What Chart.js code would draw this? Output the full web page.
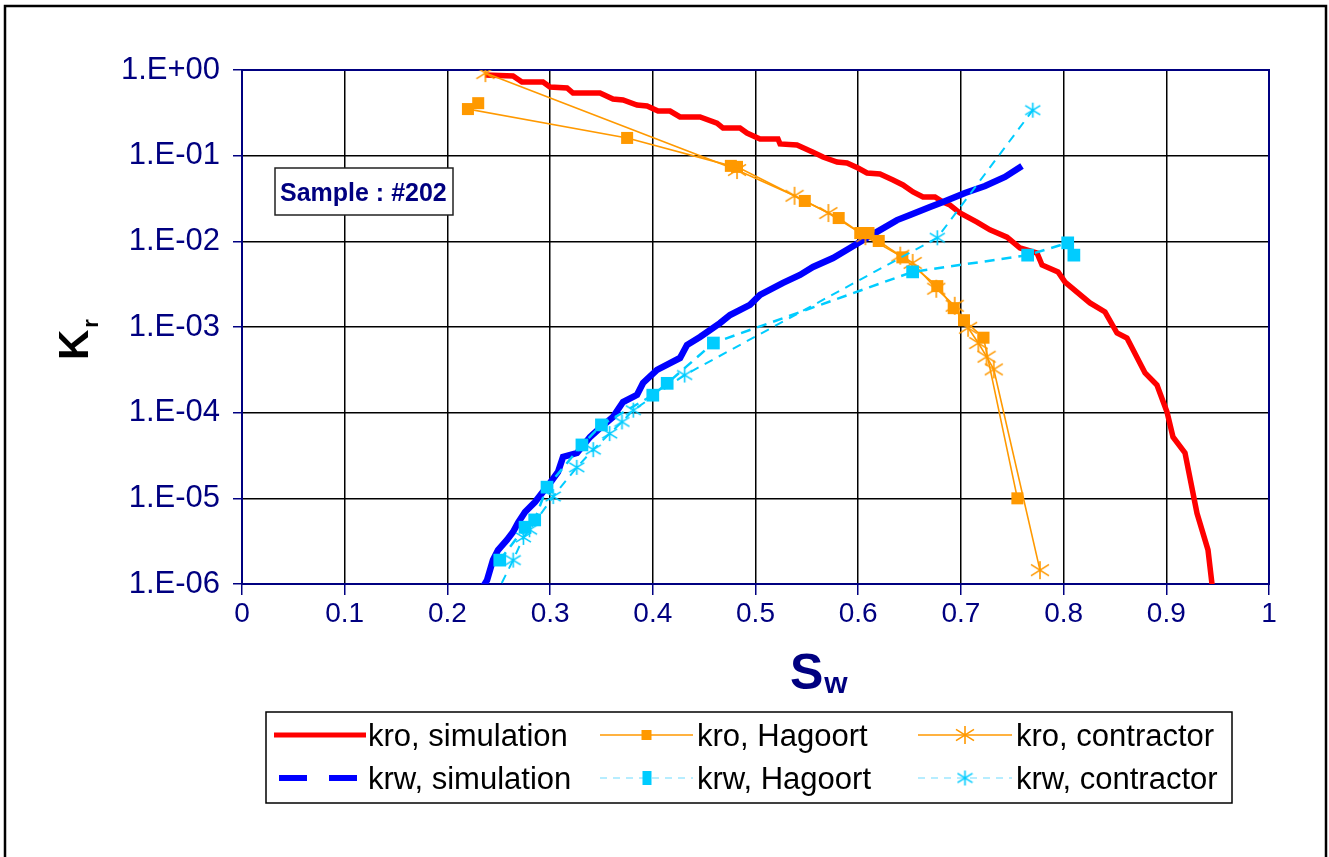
<!DOCTYPE html>
<html>
<head>
<meta charset="utf-8">
<script src="https://cdn.jsdelivr.net/npm/chart.js@4.4.1/dist/chart.umd.min.js"></script>
<style>
html,body{margin:0;padding:0;background:#fff;}
canvas{display:block;}
</style>
</head>
<body>
<canvas id="c" width="1329" height="857"></canvas>
<script>
// ---------- tick labels ----------
const xTicks = [0, 0.1, 0.2, 0.3, 0.4, 0.5, 0.6, 0.7, 0.8, 0.9, 1];
const xTickLabels = ['0', '0.1', '0.2', '0.3', '0.4', '0.5', '0.6', '0.7', '0.8', '0.9', '1'];
const yTicks = [1e-6, 1e-5, 1e-4, 1e-3, 1e-2, 1e-1, 1];
const yTickLabels = ['1.E-06', '1.E-05', '1.E-04', '1.E-03', '1.E-02', '1.E-01', '1.E+00'];

// ---------- series ----------
const seriesNames = ['kro, simulation', 'kro, Hagoort', 'kro, contractor', 'krw, simulation', 'krw, Hagoort', 'krw, contractor'];

const kroSimSw = [0.2366,0.2639,0.2726,0.2931,0.2999,0.3165,0.3223,0.3486,0.3612,0.3710,0.3846,0.3944,0.4051,0.4168,0.4265,0.4460,0.4625,0.4684,0.4849,0.4917,0.5044,0.5219,0.5239,0.5404,0.5560,0.5657,0.5794,0.5891,0.5998,0.6086,0.6212,0.6339,0.6436,0.6534,0.6631,0.6748,0.6826,0.6894,0.6991,0.7157,0.7283,0.7449,0.7576,0.7741,0.7790,0.7946,0.8014,0.8257,0.8403,0.8520,0.8617,0.8793,0.8909,0.9007,0.9065,0.9182,0.9299,0.9406,0.9455];
const kroSimKr = [0.875,0.851,0.724,0.724,0.634,0.617,0.539,0.539,0.458,0.447,0.390,0.380,0.332,0.332,0.283,0.283,0.240,0.210,0.210,0.184,0.157,0.157,0.137,0.133,0.110,0.0964,0.0843,0.0821,0.0718,0.0628,0.0611,0.0520,0.0455,0.0377,0.0330,0.0330,0.0288,0.0265,0.0214,0.0168,0.0136,0.0112,0.00836,0.00731,0.00530,0.00439,0.00335,0.00191,0.00150,0.000851,0.000744,0.000291,0.000210,0.000102,5.2e-5,3.4e-5,6.7e-6,2.5e-6,7.9e-7];

const kroHagSw = [0.230,0.220,0.375,0.476,0.482,0.548,0.581,0.602,0.610,0.620,0.643,0.677,0.693,0.703,0.722,0.755];
const kroHagKr = [0.41,0.35,0.161,0.076,0.074,0.0296,0.0187,0.0125,0.0125,0.0101,0.0065,0.0030,0.00166,0.0012,0.00075,1.0e-5];

const kroConSw = [0.237,0.482,0.538,0.571,0.607,0.641,0.653,0.676,0.694,0.707,0.717,0.725,0.732,0.777];
const kroConKr = [0.92,0.068,0.034,0.0214,0.0115,0.0068,0.0056,0.0028,0.00177,0.00098,0.00065,0.00045,0.00032,1.45e-6];

const krwSimSw = [0.2298,0.2386,0.2444,0.2493,0.2580,0.2639,0.2687,0.2756,0.2853,0.2921,0.2999,0.3077,0.3126,0.3262,0.3389,0.3486,0.3612,0.3710,0.3846,0.3905,0.4041,0.4265,0.4333,0.4460,0.4654,0.4752,0.4946,0.5044,0.5268,0.5433,0.5560,0.5755,0.5920,0.6095,0.6378,0.6504,0.6699,0.6826,0.7040,0.7235,0.7429,0.7595];
const krwSimKr = [7.4e-7,1.11e-6,1.91e-6,2.49e-6,3.27e-6,4.05e-6,5.15e-6,6.93e-6,9.06e-6,1.15e-5,1.51e-5,2.03e-5,3.04e-5,3.38e-5,5.2e-5,6.62e-5,8.9e-5,1.33e-4,1.61e-4,2.22e-4,3.15e-4,4.35e-4,6.16e-4,7.64e-4,1.11e-3,1.38e-3,1.81e-3,2.37e-3,3.27e-3,4.05e-3,5.02e-3,6.39e-3,8.36e-3,1.12e-2,1.77e-2,2.03e-2,2.52e-2,2.88e-2,3.67e-2,4.42e-2,5.64e-2,7.57e-2];

const krwHagSw = [0.251,0.2756,0.285,0.297,0.331,0.350,0.400,0.414,0.459,0.653,0.765,0.804,0.810];
const krwHagKr = [1.9e-6,4.6e-6,5.6e-6,1.35e-5,4.2e-5,7.2e-5,1.6e-4,2.2e-4,6.5e-4,4.4e-3,6.9e-3,9.6e-3,6.9e-3];

const krwConSw = [0.246,0.264,0.274,0.280,0.303,0.326,0.342,0.358,0.370,0.381,0.431,0.677,0.770];
const krwConKr = [7.0e-7,1.9e-6,3.5e-6,4.3e-6,1.05e-5,2.3e-5,3.7e-5,5.7e-5,7.8e-5,1.07e-4,2.75e-4,1.1e-2,0.34];

const sampleLabel = 'Sample : #202';

// ---------- styling helpers ----------
const RED = '#FF0000', BLUE = '#0000FF', ORANGE = '#FF9900', CYAN = '#00CCFF', NAVY = '#000080';
const FONT = '"Liberation Sans", Arial, Helvetica, sans-serif';

function makeAsterisk(color, size, lw) {
  const c = document.createElement('canvas');
  c.width = size; c.height = size;
  const g = c.getContext('2d');
  g.strokeStyle = color; g.lineWidth = lw; g.lineCap = 'butt';
  const h = size / 2, r = size / 2 - 1;
  g.beginPath();
  g.moveTo(h, h - r); g.lineTo(h, h + r);
  g.moveTo(h - r, h - r * 0.62); g.lineTo(h + r, h + r * 0.62);
  g.moveTo(h - r, h + r * 0.62); g.lineTo(h + r, h - r * 0.62);
  g.stroke();
  return c;
}
const orangeStar = makeAsterisk(ORANGE, 20, 1.6);
const cyanStar = makeAsterisk(CYAN, 17, 1.6);

const pts = (xs, ys) => xs.map((x, i) => ({x: x, y: ys[i]}));

const datasets = [
  {label: seriesNames[0], data: pts(kroSimSw, kroSimKr), showLine: true, borderColor: RED, borderWidth: 5.5, pointRadius: 0, order: 6},
  {label: seriesNames[1], data: pts(kroHagSw, kroHagKr), showLine: true, borderColor: ORANGE, borderWidth: 1.6, pointStyle: 'rect', pointRadius: 8.5, pointBackgroundColor: ORANGE, pointBorderWidth: 0, order: 4},
  {label: seriesNames[2], data: pts(kroConSw, kroConKr), showLine: true, borderColor: ORANGE, borderWidth: 1.6, pointStyle: orangeStar, pointRadius: 9, order: 3},
  {label: seriesNames[3], data: pts(krwSimSw, krwSimKr), showLine: true, borderColor: BLUE, borderWidth: 6.5, pointRadius: 0, order: 5},
  {label: seriesNames[4], data: pts(krwHagSw, krwHagKr), showLine: true, borderColor: CYAN, borderWidth: 2.5, borderDash: [10, 7], pointStyle: 'rect', pointRadius: 9, pointBackgroundColor: CYAN, pointBorderWidth: 0, order: 2},
  {label: seriesNames[5], data: pts(krwConSw, krwConKr), showLine: true, borderColor: CYAN, borderWidth: 2, borderDash: [9, 7], pointStyle: cyanStar, pointRadius: 8, order: 1}
];

// ---------- decorations: frame, sample box, axis titles, legend ----------
const deco = {
  id: 'deco',
  beforeDraw(chart) {
    const ctx = chart.ctx;
    ctx.save();
    ctx.fillStyle = '#fff';
    ctx.fillRect(0, 0, chart.width, chart.height);
    ctx.strokeStyle = '#000';
    ctx.lineWidth = 2.5;
    ctx.strokeRect(5, 6, 1321, 900);
    ctx.restore();
  },
  beforeDatasetsDraw(chart) {
    const ctx = chart.ctx;
    const a = chart.chartArea;
    ctx.save();
    ctx.strokeStyle = NAVY;
    ctx.lineWidth = 2;
    ctx.strokeRect(a.left, a.top, a.right - a.left, a.bottom - a.top);
    ctx.restore();
  },
  afterDraw(chart) {
    const ctx = chart.ctx;
    ctx.save();
    // sample box
    ctx.fillStyle = '#fff';
    ctx.fillRect(275, 168, 178, 47);
    ctx.strokeStyle = '#222';
    ctx.lineWidth = 1.5;
    ctx.strokeRect(275, 168, 178, 47);
    ctx.fillStyle = NAVY;
    ctx.font = 'bold 25px ' + FONT;
    ctx.textBaseline = 'alphabetic';
    ctx.textAlign = 'left';
    ctx.fillText(sampleLabel, 280, 201);

    // y-axis title K_r (rotated)
    ctx.save();
    ctx.translate(88, 360);
    ctx.rotate(-Math.PI / 2);
    ctx.fillStyle = '#000';
    ctx.font = 'bold 42px ' + FONT;
    ctx.fillText('K', 0, 0);
    const kw = ctx.measureText('K').width;
    ctx.font = 'bold 22px ' + FONT;
    ctx.fillText('r', kw + 2, 10);
    ctx.restore();

    // x-axis title S_w
    ctx.fillStyle = NAVY;
    ctx.font = 'bold 50px ' + FONT;
    ctx.fillText('S', 790, 689);
    const sw = ctx.measureText('S').width;
    ctx.font = 'bold 30px ' + FONT;
    ctx.fillText('w', 790 + sw + 1, 693);

    // legend box
    ctx.strokeStyle = '#000';
    ctx.lineWidth = 1.5;
    ctx.strokeRect(266, 712, 966, 91);
    const rows = [735, 778];
    const cols = [[274, 366, 368], [600, 693, 697], [918, 1012, 1016]];
    const styles = [
      {color: RED, width: 5, dash: [], marker: null},
      {color: ORANGE, width: 1.6, dash: [], marker: 'rect'},
      {color: ORANGE, width: 1.6, dash: [], marker: orangeStar},
      {color: BLUE, width: 6, dash: [28, 22], marker: null, offset: -5},
      {color: '#9FE8FF', width: 1.5, dash: [7, 6], marker: 'rectC'},
      {color: '#9FE8FF', width: 1.5, dash: [7, 6], marker: cyanStar}
    ];
    for (let i = 0; i < 6; i++) {
      const r = Math.floor(i / 3), cidx = i % 3;
      const y = rows[r];
      const [x0, x1, tx] = cols[cidx];
      const s = styles[i];
      ctx.save();
      ctx.strokeStyle = s.color;
      ctx.lineWidth = s.width;
      ctx.setLineDash(s.dash);
      ctx.lineDashOffset = s.offset || 0;
      ctx.beginPath();
      ctx.moveTo(x0, y); ctx.lineTo(x1, y);
      ctx.stroke();
      ctx.restore();
      const mx = (x0 + x1) / 2;
      if (s.marker === 'rect') {
        ctx.fillStyle = ORANGE;
        ctx.fillRect(mx - 5, y - 5, 10, 10);
      } else if (s.marker === 'rectC') {
        ctx.fillStyle = CYAN;
        ctx.fillRect(mx - 4, y - 7, 9, 14);
      } else if (s.marker) {
        ctx.drawImage(s.marker, mx - s.marker.width / 2, y - s.marker.height / 2);
      }
      ctx.fillStyle = '#000';
      ctx.font = '31px ' + FONT;
      ctx.textAlign = 'left';
      ctx.textBaseline = 'alphabetic';
      ctx.fillText(seriesNames[i], tx, y + 11);
    }
    ctx.restore();
  }
};

new Chart(document.getElementById('c'), {
  type: 'scatter',
  data: {datasets: datasets},
  plugins: [deco],
  options: {
    responsive: false,
    animation: false,
    devicePixelRatio: 1,
    events: [],
    layout: {padding: {left: 0, top: 70, right: 60, bottom: 0}},
    elements: {line: {tension: 0, fill: false}},
    plugins: {legend: {display: false}, tooltip: {enabled: false}, title: {display: false}},
    scales: {
      x: {
        type: 'linear',
        min: 0, max: 1,
        afterBuildTicks(scale) { scale.ticks = xTicks.map(v => ({value: v})); },
        afterFit(scale) { scale.height = 273; },
        ticks: {
          autoSkip: false, maxRotation: 0, padding: 2,
          color: NAVY,
          font: {family: FONT, size: 28},
          callback: (v, i) => xTickLabels[i]
        },
        grid: {color: '#000', lineWidth: 1.5, tickColor: NAVY, tickLength: 11, tickWidth: 1.5},
        border: {display: true, color: NAVY, width: 2}
      },
      y: {
        type: 'logarithmic',
        min: 1e-6, max: 1,
        afterBuildTicks(scale) { scale.ticks = yTicks.map(v => ({value: v})); },
        afterFit(scale) { scale.width = 242; },
        ticks: {
          autoSkip: false, padding: 13,
          color: NAVY,
          font: {family: FONT, size: 31},
          callback: (v, i) => yTickLabels[i]
        },
        grid: {color: '#000', lineWidth: 1.5, tickColor: NAVY, tickLength: 9, tickWidth: 1.5},
        border: {display: true, color: NAVY, width: 2}
      }
    }
  }
});
</script>
</body>
</html>
